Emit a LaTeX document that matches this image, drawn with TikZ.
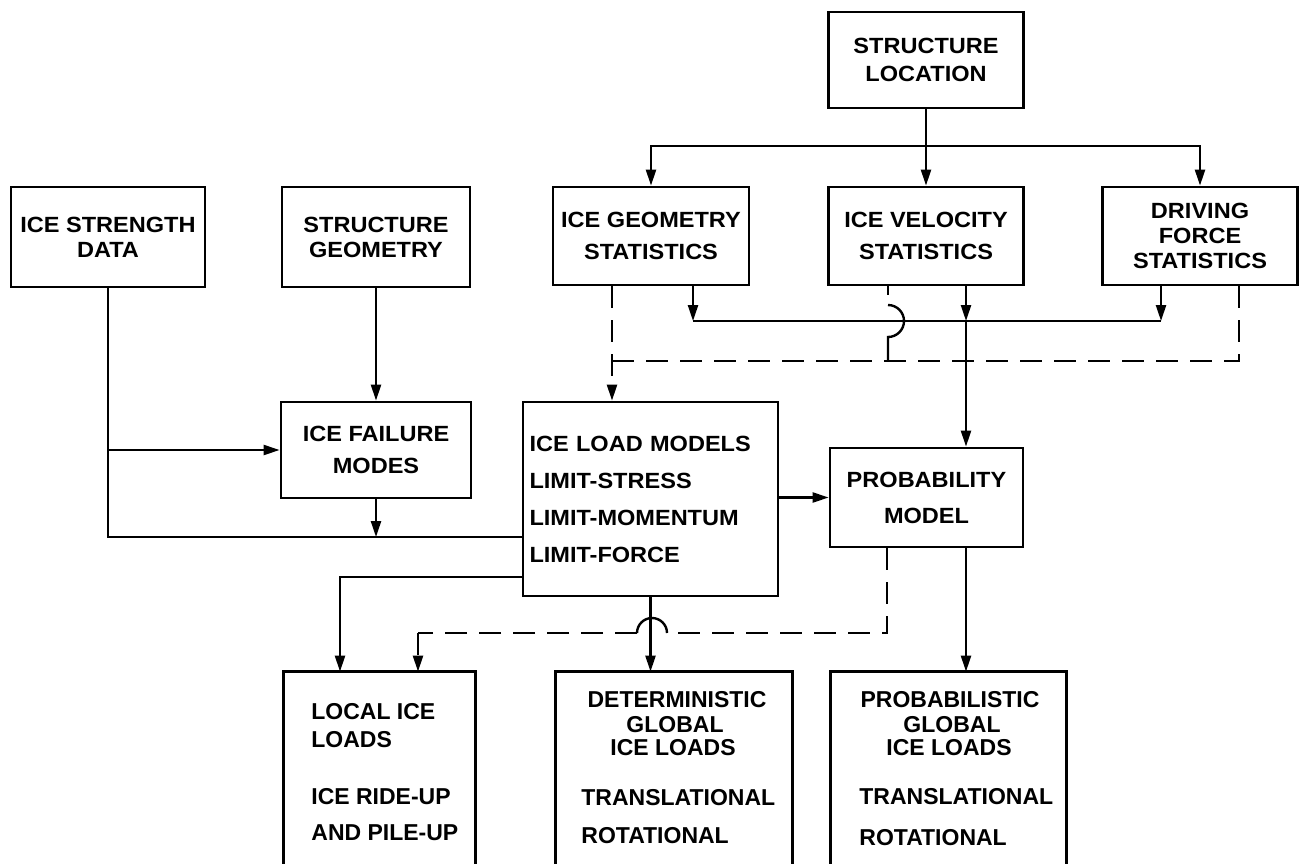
\documentclass[tikz,border=0pt]{standalone}
\usepackage{fontspec}
\newfontfamily\lab[FakeStretch=1.07]{Liberation Sans}
\newfontfamily\labb{Liberation Sans}
\usetikzlibrary{arrows.meta,calc}
\begin{document}
\begin{tikzpicture}[x=0.5pt,y=-0.5pt,
  box/.style={draw, line width=1.4pt, inner sep=0pt, align=center,
    font=\lab\bfseries\fontsize{11}{13}\selectfont},
  bbox/.style={draw=none, inner sep=0pt, minimum height=100pt},
  conn/.style={line width=1.2pt},
  arr/.style={conn, -{Triangle[length=8pt,width=5pt]}},
  dsh/.style={conn, dash pattern=on 11pt off 6pt},
  txt/.style={inner sep=0pt, font=\labb\bfseries\fontsize{11.5}{13}\selectfont}]
\useasboundingbox (0,0) rectangle (1304,863);
\clip (0,0) rectangle (1304,863);

% boxes
\node[box, minimum width=97.5pt, minimum height=48pt] (SL) at (926,60) {STRUCTURE\\[1pt]LOCATION};
\node[box, minimum width=97pt, minimum height=50pt] (ISD) at (108,237) {ICE STRENGTH\\[-0.5pt]DATA};
\node[box, minimum width=94pt, minimum height=50pt] (SG) at (376,237) {STRUCTURE\\[-0.5pt]GEOMETRY};
\node[box, minimum width=98pt, minimum height=49pt] (IGS) at (651,236) {ICE GEOMETRY\\[3pt]STATISTICS};
\node[box, minimum width=97.5pt, minimum height=49pt] (IVS) at (926,236) {ICE VELOCITY\\[3pt]STATISTICS};
\node[box, minimum width=97.5pt, minimum height=49pt] (DFS) at (1200,236) {DRIVING\\[-0.5pt]FORCE\\[-0.5pt]STATISTICS};
\node[box, minimum width=95pt, minimum height=48pt] (IFM) at (376,450) {ICE FAILURE\\[3pt]MODES};
\node[box, minimum width=127.5pt, minimum height=97pt, align=left, text width=121pt] (ILM) at (650.5,499)
  {ICE LOAD MODELS\\[5.5pt]LIMIT-STRESS\\[5.5pt]LIMIT-MOMENTUM\\[5.5pt]LIMIT-FORCE};
\node[box, minimum width=96.5pt, minimum height=49.5pt] (PM) at (926.5,497.5) {PROBABILITY\\[5pt]MODEL};

% bottom (open) boxes
\node[bbox, minimum width=95.5pt] (LIL) at (379.5,772) {};
\node[bbox, minimum width=118pt] (DGL) at (674,772) {};
\node[bbox, minimum width=117.5pt] (PGL) at (948.5,772) {};
\foreach \b in {LIL,DGL,PGL}
  \draw[line width=1.4pt] (\b.south west) |- (\b.north east) -- (\b.south east);

\node[txt, anchor=west] (lil1) at (311,712) {LOCAL ICE};
\node[txt, anchor=west] (lil2) at (311,740) {LOADS};
\node[txt, anchor=west] (lil3) at (311,797) {ICE RIDE-UP};
\node[txt, anchor=west] (lil4) at (311,833) {AND PILE-UP};

\node[txt] (dgl1) at (677,700) {DETERMINISTIC};
\node[txt] (dgl2) at (675,725) {GLOBAL};
\node[txt] (dgl3) at (673,748) {ICE LOADS};
\node[txt, anchor=west] (dgl4) at (581,798) {TRANSLATIONAL};
\node[txt, anchor=west] (dgl5) at (581,836) {ROTATIONAL};

\node[txt] (pgl1) at (950,700) {PROBABILISTIC};
\node[txt] (pgl2) at (952,725) {GLOBAL};
\node[txt] (pgl3) at (949,748) {ICE LOADS};
\node[txt, anchor=west] (pgl4) at (859,797) {TRANSLATIONAL};
\node[txt, anchor=west] (pgl5) at (859,838) {ROTATIONAL};

% structure location fan-out
\coordinate (hub) at (926,146);
\draw[arr] (SL.south) -- (IVS.north);
\draw[arr] (hub) -| (IGS.north);
\draw[arr] (hub) -| (DFS.north);

% ice strength / structure geometry
\coordinate (j1) at (108,537);
\draw[conn] (ISD.south) -- (j1) -- (j1 -| ILM.west);
\draw[arr] (ISD.south |- IFM.west) -- (IFM.west);
\draw[arr] (SG.south) -- (IFM.north);
\draw[arr] (IFM.south) -- (IFM.south |- j1);

% ice load models outputs
\draw[arr] (ILM.east |- PM.west) -- (PM.west);
\coordinate (l1) at (340,577);
\draw[arr] (ILM.west |- l1) -| (l1 |- LIL.north);
\draw[arr] (ILM.south) -- (ILM.south |- DGL.north);
\coordinate (p1) at (966,560);
\draw[arr] (PM.south -| p1) -- (p1 |- PGL.north);

% statistics collector (solid)
\coordinate (g1) at (693,321);
\coordinate (v1) at (966,321);
\coordinate (d1) at (1161,321);
\draw[arr] (IGS.south -| g1) -- (g1);
\draw[arr] (IVS.south -| v1) -- (v1);
\draw[arr] (DFS.south -| d1) -- (d1);
\draw[conn] (g1) -- (d1);
\draw[arr] (v1) -- (v1 |- PM.north);

% statistics collector (dashed)
\coordinate (q1) at (612,361);
\coordinate (q2) at (1239,361);
\coordinate (h1) at (888,361);
\draw[dsh, arr] (IGS.south -| q1) -- (q1 |- ILM.north);
\draw[dsh] (DFS.south -| q2) -- (q2) -- (q1);
\draw[conn] (IVS.south -| h1) -- ++(0,9);
\draw[conn] ($(h1)+(0,-56)$) arc[start angle=-90, end angle=90, radius=16] -- (h1);

% probability model dashed to local ice loads
\coordinate (r1) at (887,633);
\coordinate (hopR) at (667,633);
\coordinate (hopL) at (637,633);
\coordinate (r2) at (418,633);
\draw[dsh] (PM.south -| r1) -- (r1) -- (hopR);
\draw[conn] (hopR) arc[start angle=0, end angle=-180, radius=15];
\draw[dsh] (hopL) -- (r2);
\draw[dsh, arr] (r2) -- (r2 |- LIL.north);
\end{tikzpicture}
\end{document}
